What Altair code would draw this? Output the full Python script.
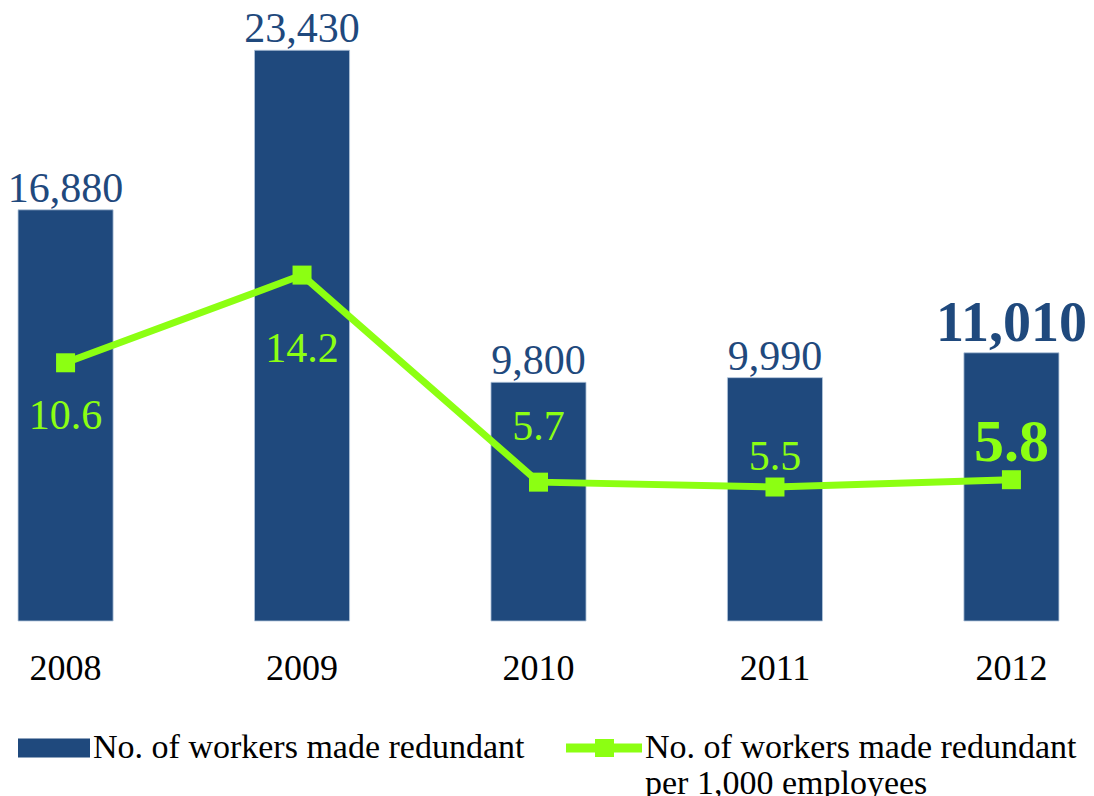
import altair as alt
import pandas as pd

years = ["2008", "2009", "2010", "2011", "2012"]
redundant = [16880, 23430, 9800, 9990, 11010]
per_thousand = [10.6, 14.2, 5.7, 5.5, 5.8]
bar_name = "No. of workers made redundant"
line_name = "No. of workers made redundant per 1,000 employees"

BLUE = "#1F497D"
GREEN = "#8CFF12"
FONT = "Liberation Serif"

df = pd.DataFrame({"year": years, "redundant": redundant, "rate": per_thousand})
df["bar_series"] = bar_name
df["line_series"] = line_name
df["redundant_label"] = [f"{v:,}" for v in redundant]
df["rate_label"] = [f"{v:.1f}" for v in per_thousand]

base = alt.Chart(df)

x = alt.X(
    "year:N",
    sort=years,
    scale=alt.Scale(paddingInner=0.598, paddingOuter=0.034),
    axis=alt.Axis(title=None, labelAngle=0, domain=False, ticks=False, grid=False,
                  labelFont=FONT, labelFontSize=36, labelColor="black", labelPadding=30),
)
ybar = alt.Y("redundant:Q", scale=alt.Scale(domain=[0, 25000]), axis=None)
yline = alt.Y("rate:Q", scale=alt.Scale(domain=[0, 25]), axis=None)

bars = base.mark_bar(stroke="#B4C6DC", strokeWidth=0.8).encode(
    x=x,
    y=ybar,
    fill=alt.Fill(
        "bar_series:N",
        scale=alt.Scale(domain=[bar_name], range=[BLUE]),
        legend=alt.Legend(
            title=None, orient="none", legendX=1, legendY=719, padding=0,
            symbolType="M-1,-0.95H6.2V0.95H-1Z", symbolSize=400, symbolStrokeWidth=0,
            labelFont=FONT, labelFontSize=34, labelColor="black", labelOffset=48,
            labelLimit=1000,
        ),
    ),
)

bar_labels_normal = base.transform_filter(alt.datum.year != "2012").mark_text(
    font=FONT, fontSize=42, color=BLUE, baseline="alphabetic", dy=-8
).encode(x=x, y=ybar, text="redundant_label:N")

bar_labels_bold = base.transform_filter(alt.datum.year == "2012").mark_text(
    font=FONT, fontSize=56, fontWeight="bold", color=BLUE, baseline="alphabetic", dy=-12
).encode(x=x, y=ybar, text="redundant_label:N")

bar_group = alt.layer(bars, bar_labels_normal, bar_labels_bold)

line = base.mark_line(strokeWidth=7).encode(
    x=x,
    y=yline,
    stroke=alt.Stroke(
        "line_series:N",
        scale=alt.Scale(domain=[line_name], range=[GREEN]),
        legend=alt.Legend(
            title=None, orient="none", legendX=549, legendY=719, padding=0,
            symbolType="M-1,-0.45H6.6V0.45H-1Z M1.9,-0.9H3.8V0.9H1.9Z",
            symbolSize=400, symbolStrokeWidth=0, symbolFillColor=GREEN,
            labelFont=FONT, labelFontSize=34, labelColor="black", labelOffset=52,
            labelLimit=1000,
            labelExpr="[substring(datum.label, 0, indexof(datum.label, ' per ')), substring(datum.label, indexof(datum.label, ' per ') + 1)]",
        ),
    ),
)

points = base.mark_point(shape="square", filled=True, size=361, opacity=1, color=GREEN).encode(
    x=x, y=yline
)

label_dy = {"2008": 53, "2009": 74, "2010": -55, "2011": -30, "2012": -37}
rate_labels = []
for yr in years:
    bold = yr == "2012"
    rate_labels.append(
        base.transform_filter(alt.datum.year == yr).mark_text(
            font=FONT, fontSize=60 if bold else 42, fontWeight="bold" if bold else "normal",
            color=GREEN, baseline="middle", dy=label_dy[yr]
        ).encode(x=x, y=yline, text="rate_label:N")
    )

line_group = alt.layer(line, points, *rate_labels)

chart = (
    alt.layer(bar_group, line_group)
    .resolve_scale(y="independent", fill="independent", stroke="independent")
    .properties(
        width=1057, height=609,
        padding={"left": 2, "top": 4, "right": 19, "bottom": 195},
        autosize=alt.AutoSizeParams(type="none"),
        background="white",
    )
    .configure(font=FONT)
    .configure_view(stroke=None, strokeWidth=0)
    .configure_legend(labelFont=FONT, labelFontSize=34, labelColor="black")
)

chart.save("out.html", embed_options={"renderer": "svg", "actions": False})
